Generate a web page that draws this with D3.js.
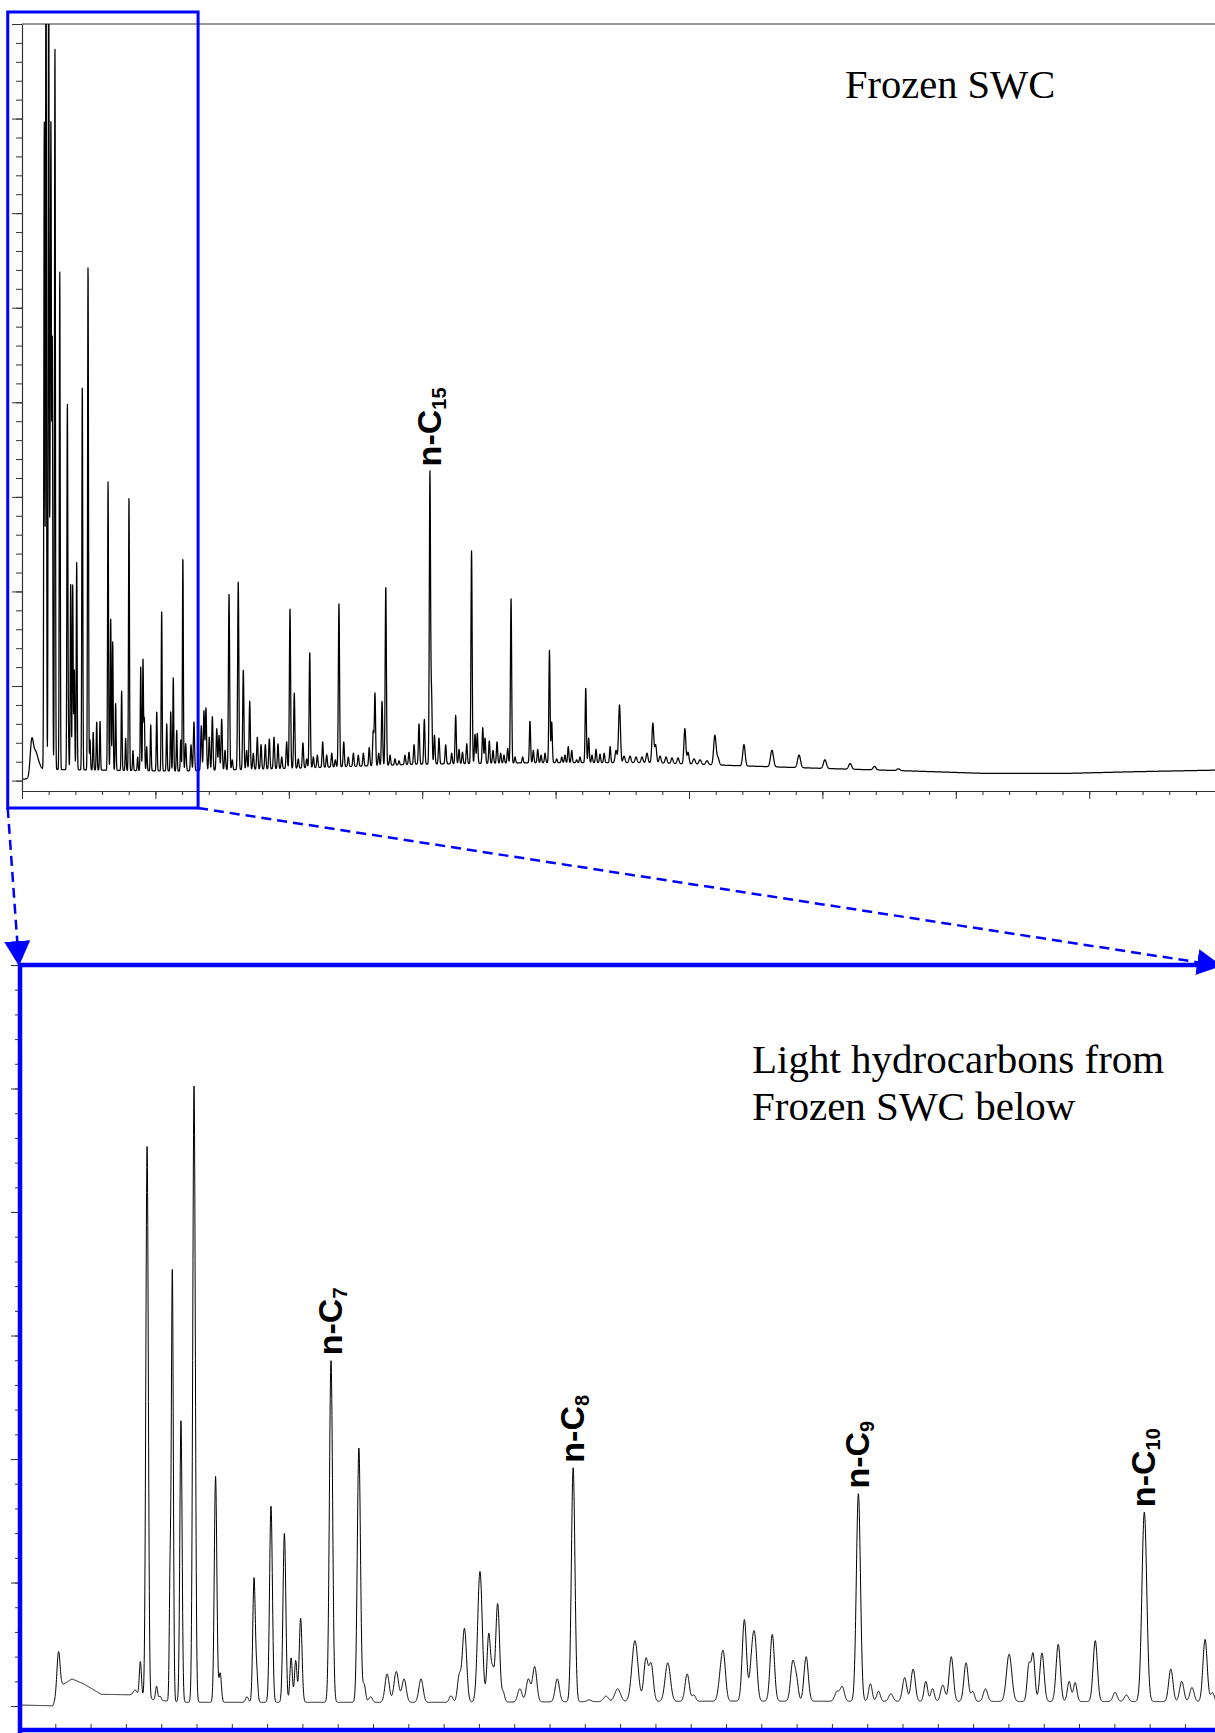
<!DOCTYPE html>
<html>
<head>
<meta charset="utf-8">
<script src="https://cdn.jsdelivr.net/npm/d3@7"></script>
<style>
  body { margin: 0; background: #fff; }
  svg { display: block; }
</style>
</head>
<body>
<svg id="chart" width="1215" height="1733"></svg>
<script>
// ---------------- Data ----------------
// Whole-oil chromatogram: retention time (min) and detector response (arbitrary units).
// Baseline drift knots [time, response]
const topBaseline = [
  [0, 0.16], [0.52, 0.16], [1.35, 1.2], [11.84, 1.0], [20.84, 1.32], [29.84, 1.74],
  [39.58, 1.9], [47.08, 1.9], [53.97, 1.56], [60.04, 1.29], [66.12, 1.04], [72.19, 0.76],
  [78.26, 0.76], [83.13, 0.93], [89.6, 1.11]
];
// Peaks [retention time, apex response]; the solvent hump carries its own width
const topHump = [[0.72, 4.4, 0.11], [0.97, 3.3, 0.22]];
const topPeaks = [
  [1.60,3.6],[1.67,69.8],[1.80,95],[2.00,92],[2.10,33.0],[2.17,70.1],[2.27,47.0],[2.47,77.6],
  [2.83,53.8],[3.40,40.0],[3.47,10.1],[3.65,21.0],[3.80,20.7],[3.92,11.7],[4.10,23.1],[4.52,41.8],
  [4.95,54.6],[5.10,4.3],[5.34,5.1],[5.60,6.2],[5.85,6.3],[6.45,31.6],[6.65,17.2],[6.80,14.7],
  [7.02,8.2],[7.47,9.5],[7.77,4.5],[8.02,30.0],[8.32,3.2],[8.67,2.5],[8.90,12.0],[9.07,12.9],
  [9.17,6.7],[9.35,3.6],[9.65,5.9],[10.10,7.3],[10.47,18.0],[10.85,6.0],[11.15,7.3],[11.34,10.9],
  [11.60,5.3],[11.90,4.3],[12.06,23.7],[12.27,3.9],[12.67,3.8],[12.89,6.2],[13.44,5.8],[13.64,7.4],
  [13.79,7.7],[14.04,4.6],[14.27,6.8],[14.60,5.5],[14.77,4.8],[14.97,6.5],[15.22,3.2],[15.52,19.7],
  [15.76,2.2],[16.21,21.0],[16.59,11.7],[16.84,3.2],[17.07,8.4],[17.34,2.9],[17.64,4.6],[17.92,3.8],
  [18.24,3.8],[18.54,4.4],[18.89,4.6],[19.19,3.9],[19.47,2.5],[19.84,4.1],[20.09,18.2],[20.41,9.3],
  [20.71,2.3],[21.06,4.0],[21.34,2.3],[21.57,13.6],[21.84,2.5],[22.14,2.7],[22.54,4.1],[22.84,2.7],
  [23.22,2.9],[23.49,2.2],[23.76,18.7],[24.12,4.1],[24.46,2.5],[24.84,2.9],[25.21,2.7],[25.59,2.9],
  [26.03,3.5],[26.33,5.3],[26.46,9.3],[26.74,2.9],[26.99,8.4],[27.27,20.5],[27.59,2.7],[27.96,2.3],
  [28.26,2.1],[28.71,2.7],[29.01,3.0],[29.39,3.8],[29.76,6.0],[30.16,6.5],[30.58,32.8],[30.70,9.9],
  [30.92,4.8],[31.26,4.5],[31.76,3.8],[32.21,2.9],[32.51,6.9],[32.76,3.3],[33.02,3.0],[33.34,3.9],
  [33.70,24.3],[33.96,4.9],[34.13,5.0],[34.54,5.6],[34.71,4.5],[35.03,4.2],[35.31,3.2],[35.61,4.1],
  [35.88,2.9],[36.13,2.7],[36.41,3.4],[36.66,19.3],[36.96,2.5],[37.53,2.5],[38.08,6.3],[38.33,3.2],
  [38.66,3.3],[38.91,2.7],[39.21,2.9],[39.54,13.8],[39.71,6.2],[40.08,2.3],[40.46,2.5],[40.70,2.7],
  [40.95,3.6],[41.21,3.2],[41.58,2.2],[41.83,2.5],[42.26,9.8],[42.48,4.5],[42.73,2.7],[43.03,3.3],
  [43.33,2.8],[43.64,2.9],[44.09,3.6],[44.53,3.2],[44.79,8.0],[45.13,2.6],[45.58,2.6],[46.03,2.5],
  [46.48,2.5],[46.85,2.9],[47.29,6.1],[47.50,3.8],[47.83,2.6],[48.28,2.5],[48.73,2.4],[49.18,2.4],
  [49.69,5.5],[49.93,3.0],[50.38,2.3],[50.83,2.2],[51.35,2.1],[51.94,4.8],[52.17,2.5],[54.12,3.8],
  [56.22,3.2],[58.25,2.7],[60.19,2.2],[62.08,1.8],[63.91,1.5],[65.70,1.25]
];
// Peak width (sigma, min) by retention window [from time, sigma]
const topPeakWidths = [[0, 0.034], [12.2, 0.045], [44.5, 0.07], [50, 0.09], [55, 0.11]];
const topLabels = [{ name: "n-C", sub: "15", t: 30.58 }];

// Light hydrocarbon chromatogram
const lowBaseline = [
  [0, 0.08], [0.93, 0.02], [1.2, 1.7], [1.47, 2.2], [1.8, 1.8], [2.3, 0.95], [3.3, 0.9],
  [3.8, 0.5], [4.6, 0.3], [12, 0.3], [20, 0.4], [34.1, 0.35]
];
// Peaks [retention time, apex response, sigma]
const lowPeaks = [
  [1.09,4.4,0.045],[3.26,1.3,0.05],[3.41,3.6,0.03],[3.60,45.3,0.035],[3.87,1.6,0.03],[3.97,0.8,0.03],
  [4.25,12.1,0.022],[4.315,35.4,0.028],[4.56,23.1,0.032],[4.93,50.2,0.036],[5.46,0.75,0.03],[5.54,18.6,0.036],
  [5.67,2.7,0.035],[6.43,0.75,0.04],[6.63,10.4,0.036],[6.71,3.2,0.03],[7.11,16.2,0.04],[7.49,14.0,0.04],
  [7.68,3.9,0.035],[7.81,3.7,0.035],[7.95,7.1,0.04],[8.81,28.0,0.045],[9.60,20.9,0.045],[9.75,1.8,0.04],
  [9.93,0.75,0.05],[10.40,2.6,0.06],[10.66,2.8,0.065],[10.88,2.2,0.06],[11.36,2.2,0.06],[12.21,0.83,0.05],
  [12.44,2.6,0.05],[12.59,6.3,0.06],[13.03,10.9,0.065],[13.28,5.9,0.05],[13.39,3.3,0.04],[13.53,8.3,0.055],
  [13.69,1.2,0.04],[14.16,1.4,0.06],[14.40,2.2,0.06],[14.58,3.2,0.06],[15.22,2.2,0.06],[15.67,19.3,0.05],
  [16.12,0.5,0.06],[16.60,0.8,0.07],[16.93,1.4,0.08],[17.42,5.3,0.085],[17.73,3.9,0.06],[17.88,3.5,0.06],
  [18.35,3.5,0.075],[18.90,2.6,0.06],[19.09,0.9,0.05],[19.84,3.2,0.06],[19.93,4.4,0.06],[20.52,7.0,0.06],
  [20.73,4.8,0.06],[20.82,5.8,0.06],[21.31,5.8,0.06],[21.89,3.7,0.06],[22.00,2.5,0.05],[22.27,4.0,0.06],
  [23.14,1.2,0.06],[23.29,1.6,0.06],[23.75,17.2,0.058],[24.09,1.8,0.05],[24.32,1.2,0.05],[24.67,1.0,0.06],
  [25.06,2.3,0.06],[25.30,3.0,0.06],[25.66,2.0,0.05],[25.85,1.4,0.05],[26.14,1.7,0.06],[26.38,4.0,0.06],
  [26.80,3.5,0.06],[26.99,1.2,0.05],[27.35,1.4,0.06],[28.02,4.2,0.075],[28.58,3.5,0.05],[28.70,4.3,0.05],
  [28.95,4.3,0.06],[29.41,5.0,0.06],[29.72,2.0,0.05],[29.89,1.9,0.05],[30.46,5.3,0.06],[31.02,1.1,0.06],
  [31.34,0.9,0.06],[31.85,15.7,0.068],[32.60,3.0,0.06],[32.91,2.0,0.06],[33.20,1.5,0.06],[33.57,5.4,0.06],
  [33.78,1.1,0.05]
];
const lowLabels = [
  { name: "n-C", sub: "7", t: 8.81 },
  { name: "n-C", sub: "8", t: 15.67 },
  { name: "n-C", sub: "9", t: 23.75 },
  { name: "n-C", sub: "10", t: 31.85 }
];
// Retention window of the upper run that is expanded below (min)
const zoomWindow = [-1.07, 13.2];

const titleTop = ["Frozen SWC"];
const titleLow = ["Light hydrocarbons from", "Frozen SWC below"];

// ---------------- Helpers ----------------
const BLUE = "#0000ff";
const AXIS = "#333";
const SERIF = "'Liberation Serif', 'Times New Roman', Times, serif";
const SANS = "'Liberation Sans', Arial, Helvetica, sans-serif";

// Sum of Gaussian peaks on a drifting baseline, sampled on a fine time grid.
// Peak amplitudes are solved so that the summed signal reaches each listed apex.
function buildTrace(peaks, baseline, widthOf, t0, t1, n) {
  const base = d3.scaleLinear()
    .domain(baseline.map(d => d[0])).range(baseline.map(d => d[1])).clamp(true);
  const pk = peaks.map(p => ({
    t: p[0],
    apex: p[1],
    b: base(p[0]),
    w: p[2] !== undefined ? p[2] : widthOf(p[0])
  }));
  pk.forEach(p => { p.a = Math.max(0, p.apex - p.b); });
  for (let it = 0; it < 30; it++) {
    pk.forEach((p, i) => {
      let s = 0;
      pk.forEach((q, j) => {
        if (j === i) return;
        const z = (p.t - q.t) / q.w;
        if (z > -8 && z < 8) s += q.a * Math.exp(-0.5 * z * z);
      });
      p.a = Math.max(0, p.apex - p.b - s);
    });
  }
  const pts = [];
  for (let i = 0; i <= n; i++) {
    const t = t0 + (t1 - t0) * i / n;
    let v = base(t);
    for (const p of pk) {
      const z = (t - p.t) / p.w;
      if (z > -8 && z < 8) v += p.a * Math.exp(-0.5 * z * z);
    }
    pts.push([t, v]);
  }
  return pts;
}

const widthBisect = d3.bisector(d => d[0]).right;
function topWidth(t) {
  const i = Math.max(0, widthBisect(topPeakWidths, t) - 1);
  return topPeakWidths[i][1];
}

function apexOf(peaks, t) {
  return peaks.reduce((best, p) => Math.abs(p[0] - t) < Math.abs(best[0] - t) ? p : best)[1];
}

function addLabel(g, x, y, lab) {
  const txt = g.append("text")
    .attr("transform", `translate(${x},${y}) rotate(-90)`)
    .attr("font-family", SANS)
    .attr("font-weight", "bold")
    .attr("font-size", 34)
    .attr("fill", "#000")
    .text(lab.name);
  txt.append("tspan").attr("font-size", 20).attr("dy", 5).text(lab.sub);
}

const svg = d3.select("#chart");
const defs = svg.append("defs");

// ---------------- Upper panel ----------------
const topX = d3.scaleLinear().domain([0, 90]).range([22, 1222.6]);
const topY = d3.scaleLinear().domain([-1.1, 80]).range([791, 24]);

defs.append("clipPath").attr("id", "clipTop").append("rect")
  .attr("x", topX(0)).attr("y", topY(80))
  .attr("width", topX(90) - topX(0)).attr("height", topY(-1.1) - topY(80));

const gTop = svg.append("g");

// frame line along the top of the plot
gTop.append("line")
  .attr("x1", topX(0)).attr("x2", topX(90))
  .attr("y1", topY(80)).attr("y2", topY(80))
  .attr("stroke", AXIS).attr("stroke-width", 1);

const topTrace = buildTrace(topHump.concat(topPeaks), topBaseline, topWidth, 0, 89.6, 7500);
const topLine = d3.line().x(d => topX(d[0])).y(d => topY(d[1]));
gTop.append("path")
  .attr("clip-path", "url(#clipTop)")
  .attr("d", topLine(topTrace))
  .attr("fill", "none").attr("stroke", "#000")
  .attr("stroke-width", 1.25).attr("stroke-linejoin", "round");

// axes: minor and major ticks without labels
function styleAxis(sel) {
  sel.attr("color", AXIS);
  sel.selectAll("path.domain").attr("stroke-width", 1.2);
  sel.selectAll(".tick line").attr("stroke-width", 1);
}
gTop.append("g").attr("transform", `translate(${topX(0)},0)`)
  .call(d3.axisLeft(topY).tickValues(d3.range(0, 81, 2)).tickSize(6).tickSizeOuter(0).tickFormat(""))
  .call(styleAxis);
gTop.append("g").attr("transform", `translate(${topX(0)},0)`)
  .call(d3.axisLeft(topY).tickValues(d3.range(0, 81, 10)).tickSize(10).tickSizeOuter(0).tickFormat(""))
  .call(styleAxis).call(g => g.select(".domain").remove());
gTop.append("g").attr("transform", `translate(0,${topY(-1.1)})`)
  .call(d3.axisBottom(topX).tickValues(d3.range(0, 91, 2)).tickSize(4).tickSizeOuter(0).tickFormat(""))
  .call(styleAxis);
gTop.append("g").attr("transform", `translate(0,${topY(-1.1)})`)
  .call(d3.axisBottom(topX).tickValues(d3.range(0, 91, 10)).tickSize(8).tickSizeOuter(0).tickFormat(""))
  .call(styleAxis).call(g => g.select(".domain").remove());

topLabels.forEach(lab => {
  addLabel(gTop, topX(lab.t) + 11, topY(apexOf(topPeaks, lab.t)) - 4, lab);
});

gTop.selectAll("text.title").data(titleTop).join("text")
  .attr("class", "title")
  .attr("x", 845).attr("y", 98)
  .attr("font-family", SERIF).attr("font-size", 40.5).attr("fill", "#000")
  .text(d => d);

// ---------------- Lower panel ----------------
const lowX = d3.scaleLinear().domain([0, 34.05]).range([20, 1222]);
const lowY = d3.scaleLinear().domain([-1.94, 60]).range([1730, 965]);

defs.append("clipPath").attr("id", "clipLow").append("rect")
  .attr("x", lowX(0)).attr("y", lowY(60))
  .attr("width", lowX(34.05) - lowX(0)).attr("height", lowY(-1.94) - lowY(60));

const gLow = svg.append("g");

const lowTrace = buildTrace(lowPeaks, lowBaseline, () => 0.05, 0, 34.1, 7000);
const lowLine = d3.line().x(d => lowX(d[0])).y(d => lowY(d[1]));
gLow.append("path")
  .attr("clip-path", "url(#clipLow)")
  .attr("d", lowLine(lowTrace))
  .attr("fill", "none").attr("stroke", "#000")
  .attr("stroke-width", 1).attr("stroke-linejoin", "round");

gLow.append("g").attr("transform", `translate(${lowX(0)},0)`)
  .call(d3.axisLeft(lowY).tickValues(d3.range(0, 61, 2)).tickSize(5).tickFormat(""))
  .call(styleAxis).call(g => g.select(".domain").remove());
gLow.append("g").attr("transform", `translate(${lowX(0)},0)`)
  .call(d3.axisLeft(lowY).tickValues(d3.range(0, 61, 10)).tickSize(9).tickFormat(""))
  .call(styleAxis).call(g => g.select(".domain").remove());
gLow.append("g").attr("transform", `translate(0,${lowY(-1.94)})`)
  .call(d3.axisBottom(lowX).tickValues(d3.range(1, 35, 1)).tickSize(-6).tickFormat(""))
  .call(styleAxis).call(g => g.select(".domain").remove());

// blue frame of the expanded view
const frame = gLow.append("g").attr("stroke", BLUE).attr("stroke-width", 4.5).attr("fill", "none");
frame.append("line").attr("x1", lowX(0)).attr("x2", lowX(0)).attr("y1", lowY(60) - 2).attr("y2", 1733);
frame.append("line").attr("x1", lowX(0) - 2).attr("x2", 1215).attr("y1", lowY(60)).attr("y2", lowY(60));
frame.append("line").attr("x1", lowX(0) - 2).attr("x2", 1215).attr("y1", lowY(-1.94)).attr("y2", lowY(-1.94));

lowLabels.forEach(lab => {
  addLabel(gLow, lowX(lab.t) + 11, lowY(apexOf(lowPeaks, lab.t)) - 5, lab);
});

gLow.append("text")
  .attr("font-family", SERIF).attr("font-size", 41).attr("fill", "#000")
  .selectAll("tspan").data(titleLow).join("tspan")
  .attr("x", 752).attr("y", (d, i) => 1073 + i * 47)
  .text(d => d);

// ---------------- Zoom window and connectors ----------------
const boxX0 = topX(zoomWindow[0]), boxX1 = topX(zoomWindow[1]);
const boxY0 = topY(80) - 12, boxY1 = topY(-1.1) + 17;
svg.append("rect")
  .attr("x", boxX0).attr("y", boxY0)
  .attr("width", boxX1 - boxX0).attr("height", boxY1 - boxY0)
  .attr("fill", "none").attr("stroke", BLUE).attr("stroke-width", 3);

defs.append("marker")
  .attr("id", "arrow")
  .attr("viewBox", "0 0 25 26")
  .attr("refX", 25).attr("refY", 13)
  .attr("markerWidth", 25).attr("markerHeight", 26)
  .attr("markerUnits", "userSpaceOnUse")
  .attr("orient", "auto")
  .append("path").attr("d", "M0,0 L25,13 L0,26 Z").attr("fill", BLUE);

const connectors = [
  [[boxX0, boxY1], [lowX(0) - 1, lowY(60) + 1]],
  [[boxX1, boxY1], [lowX(34.05), lowY(60) + 1]]
];
svg.selectAll("line.connector").data(connectors).join("line")
  .attr("class", "connector")
  .attr("x1", d => d[0][0]).attr("y1", d => d[0][1])
  .attr("x2", d => d[1][0]).attr("y2", d => d[1][1])
  .attr("stroke", BLUE).attr("stroke-width", 2.5)
  .attr("stroke-dasharray", "10,6")
  .attr("marker-end", "url(#arrow)");
</script>
</body>
</html>
